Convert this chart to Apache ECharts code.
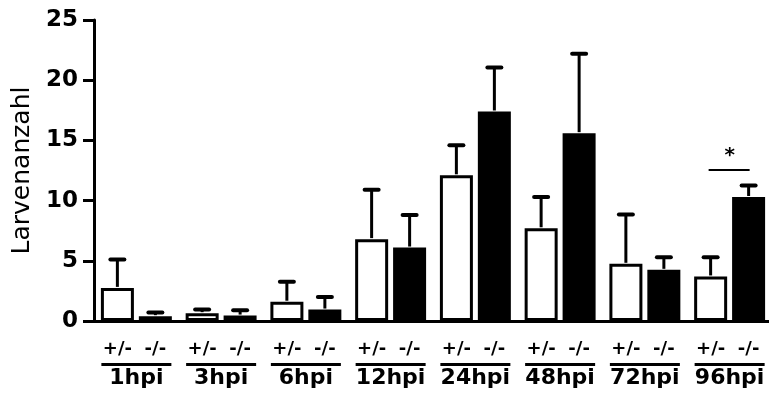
<!DOCTYPE html>
<html>
<head>
<meta charset="utf-8">
<script src="https://cdn.jsdelivr.net/npm/echarts@6/dist/echarts.min.js"></script>
<style>
html,body{margin:0;padding:0;background:#fff;overflow:hidden;width:769px;height:399px;}
#chart{width:772px;height:399px;}
</style>
</head>
<body>
<div id="chart"></div>
<script>
// ---- data ----
const categories = ['1hpi', '3hpi', '6hpi', '12hpi', '24hpi', '48hpi', '72hpi', '96hpi'];
const genotypes = ['+/-', '-/-'];
const hetMean = [2.75, 0.65, 1.6, 6.8, 12.1, 7.7, 4.75, 3.7];
const hetErr  = [2.35, 0.3, 1.65, 4.1, 2.5, 2.6, 4.1, 1.6];
const homMean = [0.4, 0.45, 0.95, 6.1, 17.4, 15.6, 4.25, 10.3];
const homErr  = [0.3, 0.45, 1.05, 2.7, 3.65, 6.6, 1.05, 0.95];
const yTicks = [0, 5, 10, 15, 20, 25];
const sigMarks = [{ category: '96hpi', level: 12.55, label: '*' }];
const yTitle = 'Larvenanzahl';

// ---- chart ----
const chart = echarts.init(document.getElementById('chart'));
const BAR_W = 33, BAR_GAP = '15%', HALF_SHIFT = 19;

function errData(means, errs) {
  return means.map((m, i) => [i, m, errs[i]]);
}
function errRender(side) {
  return function (params, api) {
    const i = api.value(0), m = api.value(1), e = api.value(2);
    const b = api.coord([i, m]);
    const t = api.coord([i, m + e]);
    const x = b[0] + side * HALF_SHIFT;
    return {
      type: 'group',
      children: [
        { type: 'line', shape: { x1: x, y1: b[1] - 1, x2: x, y2: t[1] },
          style: { stroke: '#000', lineWidth: 3 } },
        { type: 'line', shape: { x1: x - 7, y1: t[1], x2: x + 7, y2: t[1] },
          style: { stroke: '#000', lineWidth: 4, lineCap: 'round' } }
      ]
    };
  };
}

const option = {
  animation: false,
  backgroundColor: '#fff',
  grid: { left: 94, right: 0, top: 20, bottom: 78, containLabel: false },
  xAxis: {
    type: 'category',
    data: categories,
    boundaryGap: true,
    axisLine: { show: true, lineStyle: { color: '#000', width: 3 } },
    axisTick: { show: false },
    axisLabel: {
      interval: 0,
      margin: 18,
      color: '#000',
      formatter: function (v) {
        return '{g0|' + genotypes[0] + '}{g1|' + genotypes[1] + '}\n{ln| }\n{c|' + v + '}';
      },
      rich: {
        g0: { fontFamily: 'DejaVu Sans', fontWeight: 'bold', fontSize: 18, width: 38, align: 'center', lineHeight: 21, color: '#000' },
        g1: { fontFamily: 'DejaVu Sans', fontWeight: 'bold', fontSize: 18, width: 38, align: 'center', lineHeight: 21, color: '#000' },
        ln: { width: 70, height: 3, lineHeight: 9, backgroundColor: '#000', fontSize: 2 },
        c: { fontFamily: 'DejaVu Sans', fontWeight: 'bold', fontSize: 22, lineHeight: 18, color: '#000' }
      }
    },
    splitLine: { show: false }
  },
  yAxis: {
    type: 'value',
    min: yTicks[0],
    max: yTicks[yTicks.length - 1],
    interval: yTicks[1] - yTicks[0],
    name: yTitle,
    nameLocation: 'middle',
    nameGap: 59,
    nameTextStyle: { fontFamily: 'DejaVu Sans', fontSize: 25, color: '#000' },
    axisLine: { show: true, lineStyle: { color: '#000', width: 3 } },
    axisTick: { show: true, length: 11, lineStyle: { color: '#000', width: 3 } },
    axisLabel: { color: '#000', fontFamily: 'DejaVu Sans', fontWeight: 'bold', fontSize: 23, margin: 16 },
    splitLine: { show: false }
  },
  series: [
    {
      name: genotypes[0], type: 'bar', data: hetMean, barWidth: BAR_W, barGap: BAR_GAP,
      itemStyle: { color: '#fff', borderColor: '#000', borderWidth: 3 }, z: 2
    },
    {
      name: genotypes[1], type: 'bar', data: homMean, barWidth: BAR_W, barGap: BAR_GAP,
      itemStyle: { color: '#000', borderColor: '#000', borderWidth: 3 }, z: 2
    },
    { type: 'custom', data: errData(hetMean, hetErr), renderItem: errRender(-1), z: 3, silent: true },
    { type: 'custom', data: errData(homMean, homErr), renderItem: errRender(1), z: 3, silent: true },
    {
      type: 'custom', z: 4, silent: true,
      data: sigMarks.map(s => [categories.indexOf(s.category), s.level, s.label]),
      renderItem: function (params, api) {
        const p = api.coord([api.value(0), api.value(1)]);
        const lbl = sigMarks[params.dataIndex].label;
        return {
          type: 'group',
          children: [
            { type: 'line', shape: { x1: p[0] - 21, y1: p[1], x2: p[0] + 20, y2: p[1] },
              style: { stroke: '#000', lineWidth: 2 } },
            { type: 'text', x: p[0], y: p[1] - 4,
              style: { text: lbl, fill: '#000', font: 'bold 20px "DejaVu Sans"', textAlign: 'center', textVerticalAlign: 'bottom' } }
          ]
        };
      }
    }
  ]
};
chart.setOption(option);
</script>
</body>
</html>
